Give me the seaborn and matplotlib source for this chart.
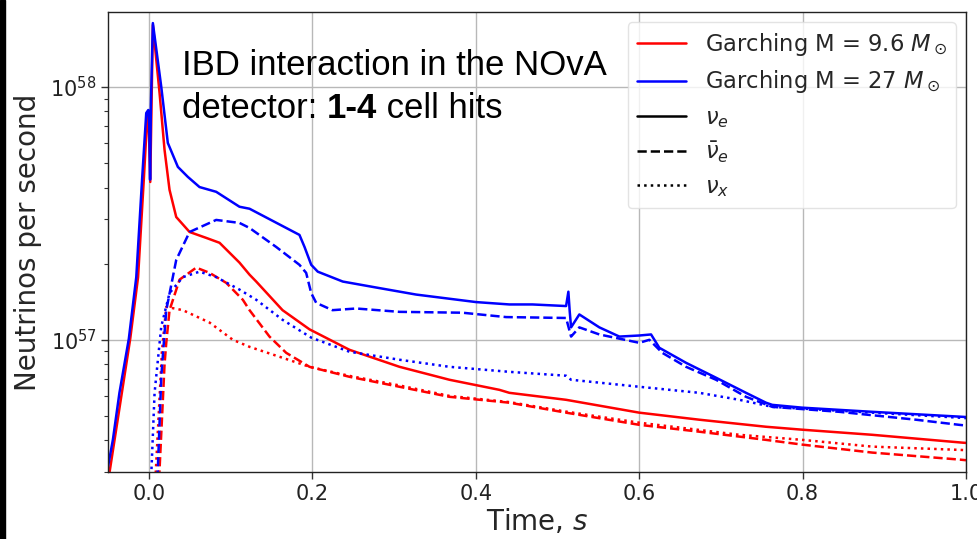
import numpy as np
import pandas as pd
import matplotlib
matplotlib.use("Agg")
import matplotlib.pyplot as plt
from matplotlib.lines import Line2D
from matplotlib.patches import Rectangle
import seaborn as sns

# Neutrino rates (units of 1e57 per second) vs time after bounce (s)
# Garching 27 Msun model
t27_nue = [-0.052, -0.044, -0.036, -0.0245, -0.0154, -0.0081, -0.0032, -0.0007, 0.0005, 0.0015,
           0.0025, 0.0049, 0.0152, 0.0232, 0.0355, 0.0477, 0.0620, 0.0824, 0.1109, 0.1232,
           0.1843, 0.1905, 0.1987, 0.2067, 0.2373, 0.2782, 0.3271, 0.4005, 0.4412, 0.4694,
           0.5106, 0.5134, 0.5150, 0.5167, 0.5268, 0.5513, 0.5758, 0.6002, 0.6146, 0.6247,
           0.6574, 0.6941, 0.7308, 0.7552, 0.7629, 0.7996, 0.8853, 0.9954, 1.0]
r27_nue = [0.29, 0.403, 0.617, 1.01, 1.77, 4.41, 7.89, 8.11, 7.0, 4.3,
           8.5, 17.9, 10.0, 6.01, 4.83, 4.41, 4.02, 3.85, 3.36, 3.30,
           2.60, 2.33, 1.98, 1.86, 1.70, 1.61, 1.51, 1.41, 1.38, 1.38,
           1.36, 1.55, 1.30, 1.12, 1.26, 1.12, 1.03, 1.04, 1.05, 0.930,
           0.811, 0.708, 0.617, 0.564, 0.553, 0.539, 0.519, 0.496, 0.495]

t27_anue = [0.0105, 0.0152, 0.0213, 0.0335, 0.0498, 0.0824, 0.1109, 0.1232, 0.1558, 0.1843,
            0.1925, 0.1987, 0.2048, 0.2247, 0.2537, 0.3067, 0.3837, 0.4372, 0.5106, 0.5167,
            0.5268, 0.5513, 0.6002, 0.6125, 0.6284, 0.6574, 0.6941, 0.7308, 0.7629, 0.8449,
            0.9387, 0.9917, 1.0]
r27_anue = [0.28, 0.714, 1.31, 2.07, 2.67, 2.98, 2.90, 2.77, 2.33, 1.98,
            1.84, 1.53, 1.40, 1.31, 1.33, 1.29, 1.28, 1.23, 1.22, 1.03,
            1.12, 1.05, 0.973, 1.00, 0.888, 0.782, 0.695, 0.595, 0.543, 0.519,
            0.483, 0.461, 0.458]

t27_nux = [0.0029, 0.0070, 0.0152, 0.0253, 0.0416, 0.0620, 0.0824, 0.1109, 0.1314, 0.1636,
           0.1987, 0.2455, 0.3067, 0.3678, 0.4412, 0.5106, 0.5167, 0.6002, 0.6737, 0.7226,
           0.7629, 0.9917, 1.0]
r27_nux = [0.29, 0.617, 1.13, 1.53, 1.77, 1.86, 1.77, 1.58, 1.44, 1.20,
           1.02, 0.897, 0.834, 0.782, 0.747, 0.721, 0.695, 0.652, 0.617, 0.579,
           0.543, 0.492, 0.490]

# Garching 9.6 Msun model
t96_nue = [-0.048, -0.0228, -0.0132, -0.0060, -0.0020, -0.0005, 0.0017, 0.0049, 0.0131, 0.0192,
           0.0253, 0.0335, 0.0498, 0.0702, 0.0865, 0.1109, 0.1232, 0.1314, 0.1636, 0.1966,
           0.2455, 0.3067, 0.3678, 0.4290, 0.4412, 0.5106, 0.6002, 0.6737, 0.7552, 0.7996,
           0.8853, 0.9954, 1.0]
r96_nue = [0.301, 1.01, 1.77, 4.41, 7.6, 7.9, 4.21, 17.6, 9.47, 5.64,
           3.92, 3.06, 2.67, 2.53, 2.42, 2.02, 1.81, 1.70, 1.31, 1.10,
           0.913, 0.782, 0.695, 0.634, 0.617, 0.579, 0.515, 0.483, 0.453, 0.441,
           0.421, 0.392, 0.391]

t96_anue = [0.0125, 0.0192, 0.0213, 0.0253, 0.0376, 0.0580, 0.0743, 0.0947, 0.1150, 0.1232,
            0.1476, 0.1681, 0.1966, 0.2455, 0.3067, 0.3678, 0.4412, 0.5106, 0.6002, 0.6737,
            0.7552, 0.7996, 0.8853, 0.9917, 1.0]
r96_anue = [0.28, 0.80, 0.973, 1.31, 1.73, 1.93, 1.84, 1.68, 1.44, 1.31,
            1.03, 0.888, 0.782, 0.714, 0.652, 0.595, 0.564, 0.515, 0.461, 0.433,
            0.402, 0.385, 0.358, 0.336, 0.334]

t96_nux = [0.0080, 0.0160, 0.0213, 0.0416, 0.0743, 0.1028, 0.1232, 0.1636, 0.1966, 0.2455,
           0.3067, 0.3678, 0.4412, 0.5106, 0.6002, 0.6737, 0.7226, 0.7996, 0.8853, 0.9917, 1.0]
r96_nux = [0.28, 0.90, 1.35, 1.31, 1.17, 1.00, 0.938, 0.849, 0.782, 0.72,
           0.66, 0.60, 0.567, 0.52, 0.47, 0.44, 0.421, 0.402, 0.378, 0.367, 0.366]

model_labels = [r"Garching M = 9.6 $M_\odot$", r"Garching M = 27 $M_\odot$"]
flavor_labels = [r"$\nu_e$", r"$\bar{\nu}_e$", r"$\nu_x$"]

series = [
    (t96_nue, r96_nue, "red", "-"),
    (t96_anue, r96_anue, "red", "--"),
    (t96_nux, r96_nux, "red", ":"),
    (t27_nue, r27_nue, "blue", "-"),
    (t27_anue, r27_anue, "blue", "--"),
    (t27_nux, r27_nux, "blue", ":"),
]

sns.set_theme(style="ticks")
plt.rcParams["font.family"] = ["DejaVu Sans"]
plt.rcParams["mathtext.fontset"] = "dejavusans"

fig = plt.figure(figsize=(9.78, 5.39), dpi=100)
ax = fig.add_axes([108 / 978, 1 - 472 / 539, (966 - 108) / 978, (472 - 12) / 539])

for t, r, c, ls in series:
    df = pd.DataFrame({"time": t, "rate": np.asarray(r) * 1e57})
    sns.lineplot(data=df, x="time", y="rate", ax=ax, color=c, linestyle=ls,
                 lw=1.8, estimator=None, sort=False)

ax.set_yscale("log")
ax.set_xlim(-0.05, 1.0)
ax.set_ylim(3.0e56, 1.98e58)
ax.set_xticks([0.0, 0.2, 0.4, 0.6, 0.8, 1.0])
ax.set_xlabel(r"Time, $s$", fontsize=20, labelpad=2)
ax.set_ylabel("Neutrinos per second", fontsize=20, labelpad=6)
ax.tick_params(axis="both", which="major", labelsize=15, length=5, width=1, colors="#333333",
               labelcolor="#222222")
ax.tick_params(axis="y", which="minor", length=3, width=0.8, colors="#333333")
ax.grid(True, which="major", color="#b8b8b8", lw=1.0)
for s in ax.spines.values():
    s.set_color("#222222")
    s.set_linewidth(1.0)

handles = [
    Line2D([], [], color="red", lw=1.8),
    Line2D([], [], color="blue", lw=1.8),
    Line2D([], [], color="black", lw=1.8, ls="-"),
    Line2D([], [], color="black", lw=1.8, ls="--"),
    Line2D([], [], color="black", lw=1.8, ls=":"),
]
ax.legend(handles, model_labels + flavor_labels, loc="upper right", fontsize=16.3,
          handlelength=2.2, labelspacing=0.45, framealpha=0.8, edgecolor="#dddddd",
          borderaxespad=0.45)

# Annotation: two lines, with the bold hit range in the second one
font = dict(family="Liberation Sans", fontsize=25, color="black")
x0, y1, y2 = 182 / 978, 1 - 75 / 539, 1 - 118 / 539
fig.text(x0, y1, "IBD interaction in the NOvA", va="baseline", ha="left", **font)
fig.canvas.draw()
renderer = fig.canvas.get_renderer()
xpos = x0
for piece, weight in [("detector: ", "normal"), ("1-4", "bold"), (" cell hits", "normal")]:
    txt = fig.text(xpos, y2, piece, va="baseline", ha="left", fontweight=weight, **font)
    bb = txt.get_window_extent(renderer)
    xpos = bb.x1 / fig.bbox.width

# dark strip along the left edge
fig.patches.append(Rectangle((0, 0), 5 / 978, 1, transform=fig.transFigure,
                             color="black", zorder=10))

fig.savefig("out.png", dpi=100)
